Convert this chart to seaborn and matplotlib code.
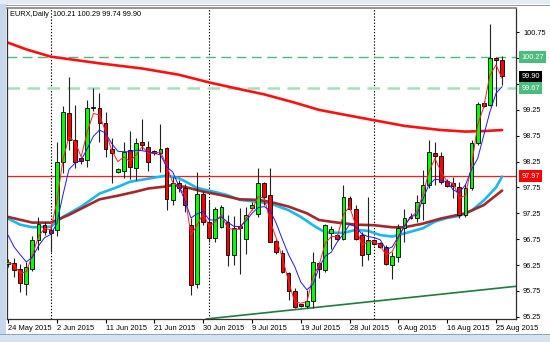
import numpy as np
import pandas as pd
import matplotlib
matplotlib.use("Agg")
import matplotlib.pyplot as plt
import matplotlib.transforms as mtransforms
from matplotlib.patches import Rectangle
import seaborn as sns

sns.set_style("white")
plt.rcParams['font.family'] = ['Liberation Sans', 'DejaVu Sans']

# ---------------- data ----------------
# trading days (Sun-Fri) shown on the chart
dates = pd.bdate_range('2015-05-24', '2015-08-26', freq='C',
                       weekmask='Sun Mon Tue Wed Thu Fri')

opens = [96.27, 96.29, 96.17, 95.89, 96.18, 96.73, 97.02, 96.92, 96.93, 98.25,
         99.19, 98.67, 98.31, 98.28, 99.28, 99.28, 98.99, 98.49, 98.04, 98.07,
         98.47, 98.12, 98.62, 98.54, 98.45, 98.41, 98.52, 97.51, 97.83, 97.73,
         97.03, 95.89, 97.62, 97.09, 96.78, 96.99, 97.09, 96.44, 96.98, 96.76,
         97.36, 97.23, 97.83, 97.60, 96.71, 96.49, 96.09, 95.75, 95.48, 95.46,
         95.56, 96.28, 96.15, 96.86, 96.83, 96.76, 97.54, 97.34, 96.83, 96.46,
         96.73, 96.67, 96.60, 96.25, 96.41, 96.97, 97.18, 97.15, 97.44, 97.80,
         98.41, 98.36, 97.87, 97.83, 97.76, 97.22, 97.73, 98.60, 99.39, 99.34,
         100.25, 100.21]
highs = [96.36, 96.38, 96.26, 96.30, 96.82, 97.18, 97.09, 97.00, 98.63, 99.32,
         99.88, 99.34, 98.34, 99.44, 99.68, 99.57, 99.20, 98.70, 98.12, 98.63,
         98.84, 98.70, 99.07, 98.65, 98.48, 98.97, 98.54, 97.95, 97.89, 97.81,
         97.15, 98.05, 97.68, 97.51, 97.38, 97.41, 97.22, 97.20, 97.35, 97.38,
         97.47, 98.13, 97.86, 98.13, 96.76, 96.54, 96.12, 95.80, 95.50, 95.76,
         96.51, 96.31, 97.05, 97.00, 96.85, 97.80, 97.59, 97.41, 96.89, 97.57,
         96.76, 96.70, 96.63, 96.51, 97.05, 97.34, 97.25, 97.60, 98.09, 98.67,
         98.62, 98.44, 97.91, 97.96, 97.86, 97.81, 98.67, 99.41, 99.42, 100.92,
         100.28, 100.29]
lows = [96.22, 96.02, 95.73, 95.67, 96.14, 96.54, 96.83, 96.50, 96.82, 98.02,
        98.47, 98.13, 98.21, 98.15, 99.23, 98.63, 98.34, 97.83, 98.02, 97.94,
        97.92, 97.89, 98.47, 98.07, 98.38, 98.05, 97.31, 97.42, 97.67, 97.28,
        95.67, 95.80, 97.02, 96.70, 96.70, 96.96, 96.24, 96.25, 96.08, 96.47,
        97.31, 97.18, 97.41, 96.69, 96.47, 96.09, 95.57, 95.41, 95.44, 95.42,
        95.41, 95.99, 96.12, 96.55, 96.74, 96.73, 97.31, 96.73, 96.24, 96.34,
        96.63, 96.57, 96.25, 95.98, 96.31, 96.70, 97.14, 97.09, 97.12, 97.73,
        97.80, 97.81, 97.75, 97.54, 97.15, 97.18, 97.70, 98.57, 99.31, 99.33,
        99.33, 99.74]
closes = [96.31, 96.15, 95.91, 96.22, 96.73, 97.05, 96.89, 96.87, 98.25, 99.20,
          98.67, 98.25, 98.26, 99.28, 99.31, 99.00, 98.49, 98.41, 98.10, 98.44,
          98.15, 98.60, 98.57, 98.25, 98.41, 98.50, 97.52, 97.83, 97.73, 97.41,
          95.87, 97.63, 97.09, 96.78, 97.33, 97.37, 96.44, 96.96, 96.96, 97.22,
          97.42, 97.83, 97.57, 96.70, 96.51, 96.11, 95.75, 95.43, 95.46, 95.55,
          96.30, 96.18, 97.03, 96.95, 96.76, 97.56, 97.34, 96.76, 96.44, 96.73,
          96.65, 96.59, 96.26, 96.43, 96.97, 97.16, 97.15, 97.47, 97.80, 98.43,
          98.36, 97.86, 97.78, 97.78, 97.22, 97.73, 98.60, 99.37, 99.32, 100.25,
          100.22, 99.90]

# fast moving averages (one value per bar)
ma_fast_red = [96.31, 96.25, 96.09, 96.12, 96.44, 96.80, 96.96, 96.93, 97.47, 98.28,
               98.73, 98.63, 98.34, 98.83, 99.18, 99.15, 98.83, 98.47, 98.25, 98.34,
               98.25, 98.38, 98.54, 98.41, 98.41, 98.44, 98.18, 97.85, 97.76, 97.60,
               96.83, 97.02, 97.25, 96.99, 97.09, 97.22, 96.96, 96.94, 96.94, 97.15,
               97.31, 97.57, 97.54, 97.09, 96.76, 96.38, 95.93, 95.54, 95.51, 95.54,
               96.02, 96.25, 96.67, 96.80, 96.80, 97.23, 97.38, 97.02, 96.63, 96.70,
               96.70, 96.63, 96.44, 96.51, 96.76, 97.02, 97.16, 97.28, 97.60, 98.05,
               98.31, 98.05, 97.86, 97.83, 97.54, 97.60, 98.18, 98.96, 99.31, 99.92,
               100.12, 99.86]
ma_fast_blue = [96.83, 96.60, 96.45, 96.31, 96.40, 96.62, 96.78, 96.84, 97.05, 97.60,
                98.10, 98.22, 98.28, 98.50, 98.74, 98.86, 98.80, 98.60, 98.45, 98.44,
                98.44, 98.47, 98.46, 98.44, 98.41, 98.38, 98.15, 98.05, 97.78, 97.50,
                97.16, 97.24, 97.28, 97.12, 97.12, 97.18, 97.08, 97.00, 96.99, 97.10,
                97.25, 97.36, 97.38, 97.30, 97.05, 96.74, 96.45, 96.22, 95.92, 95.77,
                95.88, 96.20, 96.42, 96.50, 96.70, 96.85, 97.04, 96.99, 96.85, 96.80,
                96.78, 96.74, 96.55, 96.60, 96.80, 97.00, 97.19, 97.21, 97.52, 97.80,
                97.91, 97.89, 97.86, 97.70, 97.65, 97.80, 98.10, 98.31, 98.76, 99.21,
                99.57, 99.70]

# slow moving averages, read at selected bars
ma_long_bar = [0, 3, 7, 15, 22, 28, 33, 38, 42, 47, 51, 55, 60, 65, 71, 75, 78, 81]
ma_long_val = [100.55, 100.42, 100.28, 100.15, 100.05, 99.93, 99.78, 99.65, 99.55,
               99.39, 99.25, 99.16, 99.05, 98.94, 98.86, 98.83, 98.84, 98.86]

ma_cyan_bar = [0, 2, 4, 7, 9, 12, 15, 18, 20, 24, 26, 28, 29, 31, 34, 36, 38, 41,
               43, 46, 48, 50, 52, 55, 57, 59, 61, 63, 65, 68, 70, 72, 74, 76, 78,
               80, 81]
ma_cyan_val = [97.15, 97.03, 96.98, 96.99, 97.18, 97.38, 97.63, 97.76, 97.86, 97.94,
               97.98, 97.93, 97.87, 97.74, 97.66, 97.60, 97.51, 97.47, 97.44, 97.31,
               97.18, 97.02, 96.88, 96.87, 96.93, 96.91, 96.83, 96.80, 96.86, 96.96,
               97.09, 97.16, 97.20, 97.30, 97.50, 97.75, 97.96]

ma_brown_bar = [0, 4, 7, 10, 12, 15, 18, 21, 23, 26, 27, 29, 32, 35, 38, 41, 43, 46,
                49, 51, 54, 57, 60, 63, 65, 68, 71, 73, 75, 78, 81]
ma_brown_val = [97.18, 97.07, 97.07, 97.22, 97.34, 97.52, 97.59, 97.67, 97.73, 97.77,
                97.80, 97.76, 97.67, 97.60, 97.52, 97.51, 97.47, 97.38, 97.25, 97.12,
                97.07, 97.03, 97.02, 96.98, 96.98, 97.05, 97.15, 97.20, 97.25, 97.41,
                97.69]

# support trend line (two anchor points: date, price)
trend_dates = ['2015-06-30', '2015-08-26']
trend_vals = [95.20, 95.81]

# horizontal levels
level_high = 100.27
level_low = 99.67
level_red = 97.97
last_price = closes[-1]

symbol = "EURX,Daily"
tick_label_dates = ['2015-05-24', '2015-06-02', '2015-06-11', '2015-06-21',
                    '2015-06-30', '2015-07-09', '2015-07-19', '2015-07-28',
                    '2015-08-06', '2015-08-16', '2015-08-25']
tick_labels = ['24 May 2015', '2 Jun 2015', '11 Jun 2015', '21 Jun 2015',
               '30 Jun 2015', '9 Jul 2015', '19 Jul 2015', '28 Jul 2015',
               '6 Aug 2015', '16 Aug 2015', '25 Aug 2015']
price_ticks = [95.25, 95.75, 96.25, 96.75, 97.25, 97.75, 98.25, 98.75,
               99.25, 99.75, 100.25, 100.75]
hidden_price_labels = [99.75, 100.25]   # covered by the price boxes

# ---------------- figure ----------------
W, H = 550, 342
fig = plt.figure(figsize=(W / 100, H / 100), dpi=100)
fig.patch.set_facecolor('white')

# window frame decorations
fig.add_artist(Rectangle((0, 0), 6 / W, 1, transform=fig.transFigure,
                         facecolor='#c8d8ec', edgecolor='none', zorder=0))
fig.add_artist(Rectangle((0, 0), 1, 7 / H, transform=fig.transFigure,
                         facecolor='#d6e2f0', edgecolor='none', zorder=0))
fig.add_artist(Rectangle((0, 7 / H), 1, 1 / H, transform=fig.transFigure,
                         facecolor='#8fa4bf', edgecolor='none', zorder=0))
fig.add_artist(Rectangle((0, 1 - 4 / H), 1, 4 / H, transform=fig.transFigure,
                         facecolor='#e4ebf4', edgecolor='none', zorder=0))
fig.add_artist(Rectangle((6 / W, 1 - 6 / H), 1, 1.2 / H, transform=fig.transFigure,
                         facecolor='#9a9a9a', edgecolor='none', zorder=0))

ax = fig.add_axes([7 / W, 23 / H, 509 / W, 311 / H])
ax.set_facecolor('white')

n = len(dates)
xs = np.arange(n)
df = pd.DataFrame({'x': xs, 'open': opens, 'high': highs, 'low': lows,
                   'close': closes, 'fast_red': ma_fast_red,
                   'fast_blue': ma_fast_blue})

# period separators (first bar of each new month)
months = dates.month
for i in range(1, n):
    if months[i] != months[i - 1]:
        ax.axvline(xs[i], color='black', ls=(0, (1.2, 1.6)), lw=0.8, zorder=1)

# horizontal levels
ax.axhline(level_high, color='#4cbc7c', ls=(0, (7, 4)), lw=1.0, zorder=1)
ax.axhline(level_low, color='#a8dfbd', ls=(0, (5, 3)), lw=1.8, zorder=1)
ax.axhline(level_red, color='#ff1a1a', lw=0.9, zorder=1)

# trend line
tx = [int(np.where(dates == pd.Timestamp(d))[0][0]) for d in trend_dates]
ax.axline((tx[0], trend_vals[0]), (tx[1], trend_vals[1]), color='#1e7d3c',
          lw=1.2, zorder=2)

# slow moving averages
sns.lineplot(x=ma_long_bar, y=ma_long_val, ax=ax, color='#ff1010', lw=1.9,
             estimator=None, sort=False, zorder=2)
sns.lineplot(x=ma_cyan_bar, y=ma_cyan_val, ax=ax, color='#19b8f0', lw=1.9,
             estimator=None, sort=False, zorder=2)
sns.lineplot(x=ma_brown_bar, y=ma_brown_val, ax=ax, color='#a3282a', lw=1.9,
             estimator=None, sort=False, zorder=2)

# candles
bull = df['close'] >= df['open']
ax.vlines(df['x'], df['low'], df['high'], color='#222222', lw=0.8, zorder=3)
body_lo = np.minimum(df['open'], df['close'])
body_h = np.maximum(np.abs(df['close'] - df['open']), 0.035)
ax.bar(df['x'], body_h, bottom=body_lo, width=0.62,
       color=np.where(bull, '#00ff00', '#ff0000'), edgecolor='black',
       linewidth=0.6, zorder=4)

# fast moving averages
sns.lineplot(data=df, x='x', y='fast_red', ax=ax, color='#ff2020', lw=0.7,
             estimator=None, sort=False, zorder=5)
sns.lineplot(data=df, x='x', y='fast_blue', ax=ax, color='#1a1aff', lw=0.7,
             estimator=None, sort=False, zorder=5)

# axes
ax.set_xlim(-0.16, 83.28)
ax.set_ylim(95.206, 101.22)
ax.set_xlabel('')
ax.set_ylabel('')
tpos = [int(np.where(dates == pd.Timestamp(d))[0][0]) for d in tick_label_dates]
ax.set_xticks(tpos)
ax.set_xticklabels(tick_labels, ha='left')
ax.yaxis.tick_right()
ax.set_yticks(price_ticks)
ax.set_yticklabels(['' if v in hidden_price_labels else f"{v:.2f}"
                    for v in price_ticks])
ax.tick_params(axis='x', direction='out', length=3, width=0.8, pad=1.5,
               labelsize=5.4, colors='black', bottom=True)
ax.tick_params(axis='y', direction='out', length=2.5, width=0.8, pad=2.5,
               labelsize=5.3, colors='black', right=True, left=False)
for sp in ['left', 'bottom', 'right']:
    ax.spines[sp].set_color('#303030')
    ax.spines[sp].set_linewidth(0.9)
ax.spines['top'].set_color('#808080')
ax.spines['top'].set_linewidth(1.2)
ax.grid(False)

# right-side price boxes
trans = mtransforms.blended_transform_factory(ax.transAxes, ax.transData)
def price_box(val, fc, tc='white'):
    ax.text(1.0102, val, f"{val:.2f}", transform=trans, fontsize=5.3, color=tc,
            ha='left', va='center', clip_on=False, zorder=20,
            bbox=dict(boxstyle='square,pad=0.3', fc=fc, ec='none'))

price_box(level_high, '#4cbc7c')
price_box(last_price, 'black')
price_box(level_low, '#4cbc7c')
price_box(level_red, '#ff0000')

# header
fig.text(10 / W, 1 - 14 / H,
         f"{symbol}  {opens[-1]:.2f} {highs[-1]:.2f} {lows[-1]:.2f} {closes[-1]:.2f}",
         fontsize=5.3, color='black', ha='left', va='center')

fig.savefig('out.png', dpi=100)
